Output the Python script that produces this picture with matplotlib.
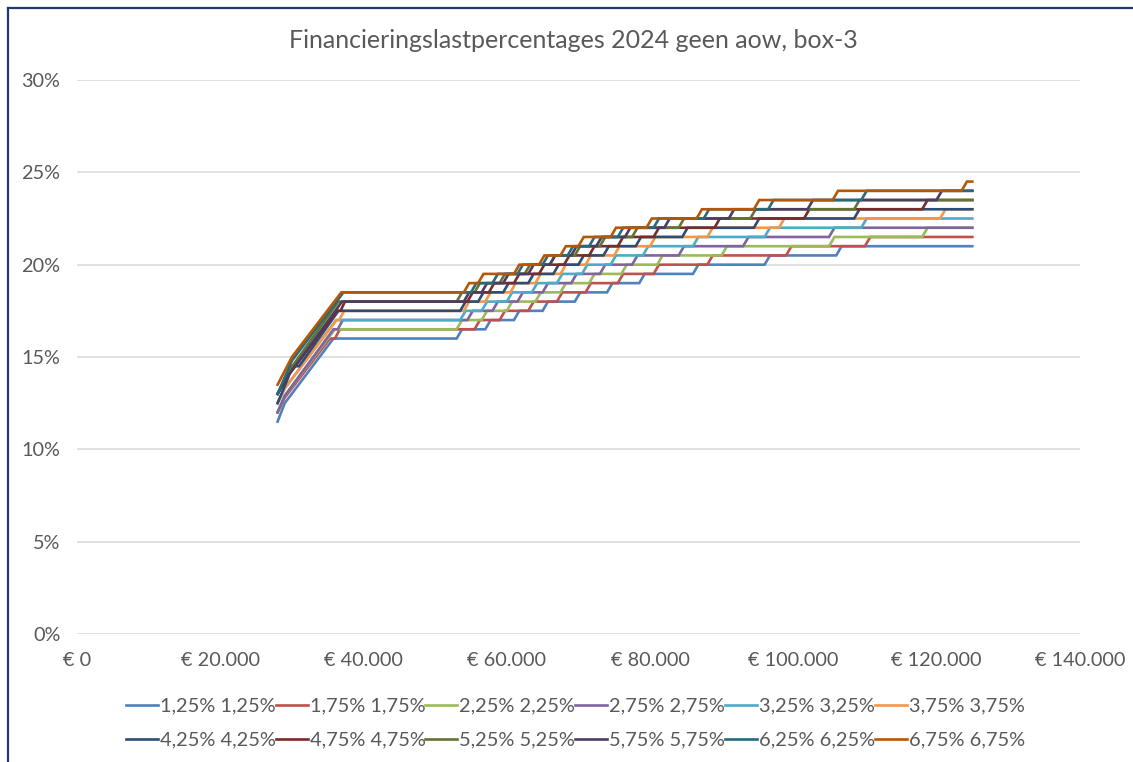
import matplotlib
matplotlib.use("Agg")
import matplotlib.pyplot as plt
from matplotlib.lines import Line2D
from matplotlib.ticker import FuncFormatter, MultipleLocator

plt.rcParams["font.family"] = ["Lato", "DejaVu Sans"]

# Toetsinkomen in thousands of euro, percentages in %
labels = ["1,25% 1,25%", "1,75% 1,75%", "2,25% 2,25%", "2,75% 2,75%",
          "3,25% 3,25%", "3,75% 3,75%", "4,25% 4,25%", "4,75% 4,75%",
          "5,25% 5,25%", "5,75% 5,75%", "6,25% 6,25%", "6,75% 6,75%"]
colors = ["#4F81BD", "#C0504D", "#9BBB59", "#8064A2", "#4BACC6", "#F79646",
          "#2C4D75", "#772C2A", "#5F7530", "#4D3B62", "#276A7C", "#B65708"]

# first part of each curve (income, percentage) up to the first plateau
rise_x = [
    [28, 29, 35.8],
    [28, 29, 35.3, 36.0, 36.7],
    [28, 29, 36.0],
    [28, 29, 35.8, 36.4, 37.1],
    [28, 29, 36.2],
    [28, 29, 36.2, 36.6, 37.3],
    [28, 29.5, 30, 31, 36.5],
    [28, 29.5, 36.3, 36.8, 37.4],
    [28, 29.5, 36.5],
    [28, 29.5, 37.0],
    [28, 30, 37.2],
    [28, 30, 36.9],
]
rise_y = [
    [11.5, 12.5, 16.0],
    [12.0, 12.8, 16.0, 16.0, 16.5],
    [12.0, 12.9, 16.5],
    [12.0, 12.9, 16.5, 16.5, 17.0],
    [12.5, 13.3, 17.0],
    [12.5, 13.3, 17.0, 17.0, 17.5],
    [12.5, 13.9, 14.5, 14.5, 17.5],
    [13.0, 14.0, 17.5, 17.5, 18.0],
    [13.0, 14.2, 18.0],
    [13.0, 14.0, 18.0],
    [13.0, 14.8, 18.5],
    [13.5, 15.0, 18.5],
]
# incomes where each series steps up by 0,5%-point
step_at = [
    [53, 57, 61, 65, 69.5, 74, 78.5, 86, 96, 106],
    [55.5, 59, 63, 67, 71, 75.5, 80.5, 88, 99, 110],
    [53, 56.5, 60, 64, 67.5, 71.5, 76, 81, 90, 105, 118],
    [54.5, 58, 61.5, 65, 69, 73, 77.5, 84, 93, 105],
    [53.5, 56.5, 60, 63.5, 67, 70.5, 74.5, 79, 86, 96, 109.5],
    [54, 57, 60.5, 64, 67.5, 71, 75, 80, 88, 98, 120.5],
    [53.5, 56, 59.5, 63, 66.5, 70, 73.5, 78, 84.5, 94.5, 108.5],
    [54.5, 57.5, 61, 64.5, 68, 71.5, 75.5, 80.5, 89, 101.5, 118],
    [53, 55.5, 59, 62.5, 66, 69.5, 73, 77.5, 84, 94, 108.5],
    [54, 56.5, 59.5, 63, 66, 69, 72.5, 76.5, 82, 91, 102, 120],
    [55, 58, 61.5, 65, 68.5, 71.5, 75.5, 80.5, 87.5, 96.5, 109.5],
    [54, 56, 61, 64.5, 67.5, 70, 74.5, 79.5, 86.5, 94.5, 105.5, 123.5],
]
last_income = 125
step_size = 0.5
ramp = 0.75  # width of the sloped part of a step

fig = plt.figure(figsize=(11.33, 7.62), dpi=100)
ax = fig.add_axes([0.068, 0.168, 0.885, 0.727])

handles = []
for i in range(len(labels)):
    xs = list(rise_x[i])
    ys = list(rise_y[i])
    level = ys[-1]
    for s in step_at[i]:
        xs += [s, s + ramp]
        ys += [level, level + step_size]
        level += step_size
    xs.append(last_income)
    ys.append(level)
    h, = ax.plot(xs, ys, color=colors[i], lw=1.9, solid_joinstyle="miter")
    handles.append(h)

ax.set_xlim(0, 140)
ax.set_ylim(0, 30)
ax.xaxis.set_major_locator(MultipleLocator(20))
ax.yaxis.set_major_locator(MultipleLocator(5))
ax.xaxis.set_major_formatter(FuncFormatter(
    lambda v, p: "€ " + f"{int(round(v * 1000)):,}".replace(",", ".")))
ax.yaxis.set_major_formatter(FuncFormatter(lambda v, p: f"{int(v)}%"))
ax.grid(axis="y", color="#D9D9D9", lw=1.1)
ax.set_axisbelow(True)
for side in ["top", "right", "left", "bottom"]:
    ax.spines[side].set_visible(False)
ax.tick_params(length=0, labelsize=14.3, colors="#595959")
ax.tick_params(axis="y", pad=12)
ax.tick_params(axis="x", pad=13)

fig.text(0.506, 0.947, "Financieringslastpercentages 2024 geen aow, box-3",
         ha="center", va="center", fontsize=18, color="#595959")

# legend filled row by row
order = []
for j in range(6):
    order += [j, j + 6]
fig.legend([handles[k] for k in order], [labels[k] for k in order],
           ncol=6, loc="center", bbox_to_anchor=(0.508, 0.051), frameon=False,
           fontsize=14.4, labelcolor="#595959", handlelength=1.6,
           handletextpad=0.1, columnspacing=0.0, labelspacing=0.85)

# chart frame (only top and left visible in the crop)
fx = 8 / 1133
fy = 1 - 8 / 762
fig.add_artist(Line2D([fx, 1], [fy, fy], color="#1F3A6E", lw=1.6))
fig.add_artist(Line2D([fx, fx], [0, fy], color="#1F3A6E", lw=1.6))

fig.savefig("out.png", dpi=100)
